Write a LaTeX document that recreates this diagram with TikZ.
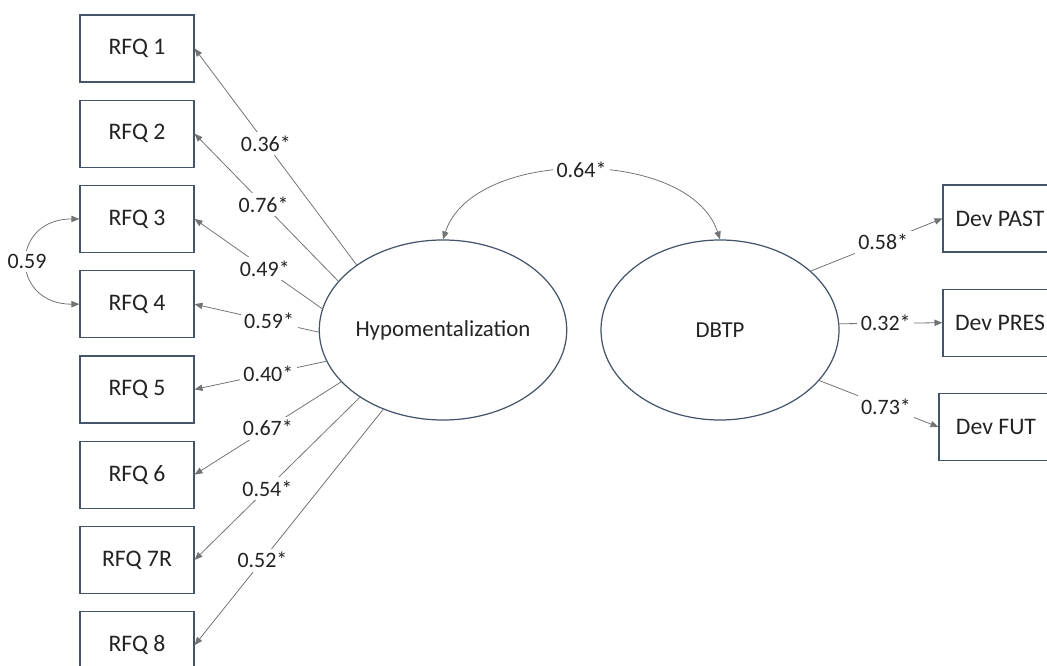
\documentclass[tikz,border=0pt]{standalone}
\usepackage{fontspec}
\setmainfont{Carlito}
\usepackage{tikz}
\usetikzlibrary{shapes.geometric,arrows.meta,positioning}
\definecolor{boxline}{RGB}{68,84,106}
\definecolor{arrgray}{RGB}{115,115,115}
\definecolor{txtdark}{RGB}{35,35,35}

\begin{document}
\begin{tikzpicture}[
  node distance=0.34cm,
  box/.style={draw=boxline, line width=0.7pt, minimum width=2.28cm, minimum height=1.34cm,
              inner sep=0pt, font=\fontsize{13.5}{15}\selectfont, text=txtdark},
  lat/.style={ellipse, draw=boxline, line width=0.7pt, minimum width=4.76cm, minimum height=3.6cm,
              inner sep=0pt, font=\fontsize{13}{15}\selectfont, text=txtdark},
  arr/.style={-{Triangle[length=4.5pt,width=3.6pt]}, draw=arrgray, line width=0.45pt},
  cov/.style={{Triangle[length=4.5pt,width=3.6pt]}-{Triangle[length=4.5pt,width=3.6pt]},
              draw=arrgray, line width=0.45pt},
  lbl/.style={fill=white, inner sep=2pt, font=\fontsize{12.5}{14}\selectfont, text=txtdark},
]
\useasboundingbox (0,0) rectangle (20.94,-13.32);

% RFQ items
\node[box] (r1) at (2.74,-0.97) {RFQ 1};
\node[box, below=of r1] (r2) {RFQ 2};
\node[box, below=of r2] (r3) {RFQ 3};
\node[box, below=of r3] (r4) {RFQ 4};
\node[box, below=of r4] (r5) {RFQ 5};
\node[box, below=of r5] (r6) {RFQ 6};
\node[box, below=of r6] (r7) {RFQ 7R};
\node[box, below=of r7] (r8) {RFQ 8};

% latent factors
\node[lat] (hypo) at (8.86,-6.6) {Hypomentalization};
\node[lat] (dbtp) at (14.4,-6.6) {DBTP};

% DBTP items
\node[box] (dpast) at (20.0,-4.37) {Dev PAST};
\node[box, below=0.72cm of dpast] (dpres) {Dev PRES};
\node[box, below=0.72cm of dpres, xshift=-0.08cm] (dfut) {Dev FUT};

% loadings
\draw[arr] (hypo.143) -- node[lbl, pos=0.56] {0.36*} (r1.east);
\draw[arr] (hypo.155) -- node[lbl, pos=0.52] {0.76*} (r2.east);
\draw[arr] (hypo.170) -- node[lbl, pos=0.45] {0.49*} (r3.east);
\draw[arr] (hypo.181) -- node[lbl, pos=0.40] {0.59*} (r4.east);
\draw[arr] (hypo.195) -- node[lbl, pos=0.44] {0.40*} (r5.east);
\draw[arr] (hypo.207) -- node[lbl, pos=0.50] {0.67*} (r6.east);
\draw[arr] (hypo.219) -- node[lbl, pos=0.56] {0.54*} (r7.east);
\draw[arr] (hypo.233) -- node[lbl, pos=0.64] {0.52*} (r8.east);

\draw[arr] (dbtp.33) -- node[lbl, pos=0.55] {0.58*} (dpast.west);
\draw[arr] (dbtp.3) -- node[lbl, pos=0.45] {0.32*} (dpres.west);
\draw[arr] (dbtp.-27) -- node[lbl, pos=0.56] {0.73*} (dfut.west);

% covariances
\draw[cov] (hypo.north) to[out=72, in=108, looseness=0.9] node[lbl] {0.64*} (dbtp.north);
\draw[cov] (r3.west) to[out=180, in=180, looseness=2.1] node[lbl] {0.59} (r4.west);
\end{tikzpicture}
\end{document}
